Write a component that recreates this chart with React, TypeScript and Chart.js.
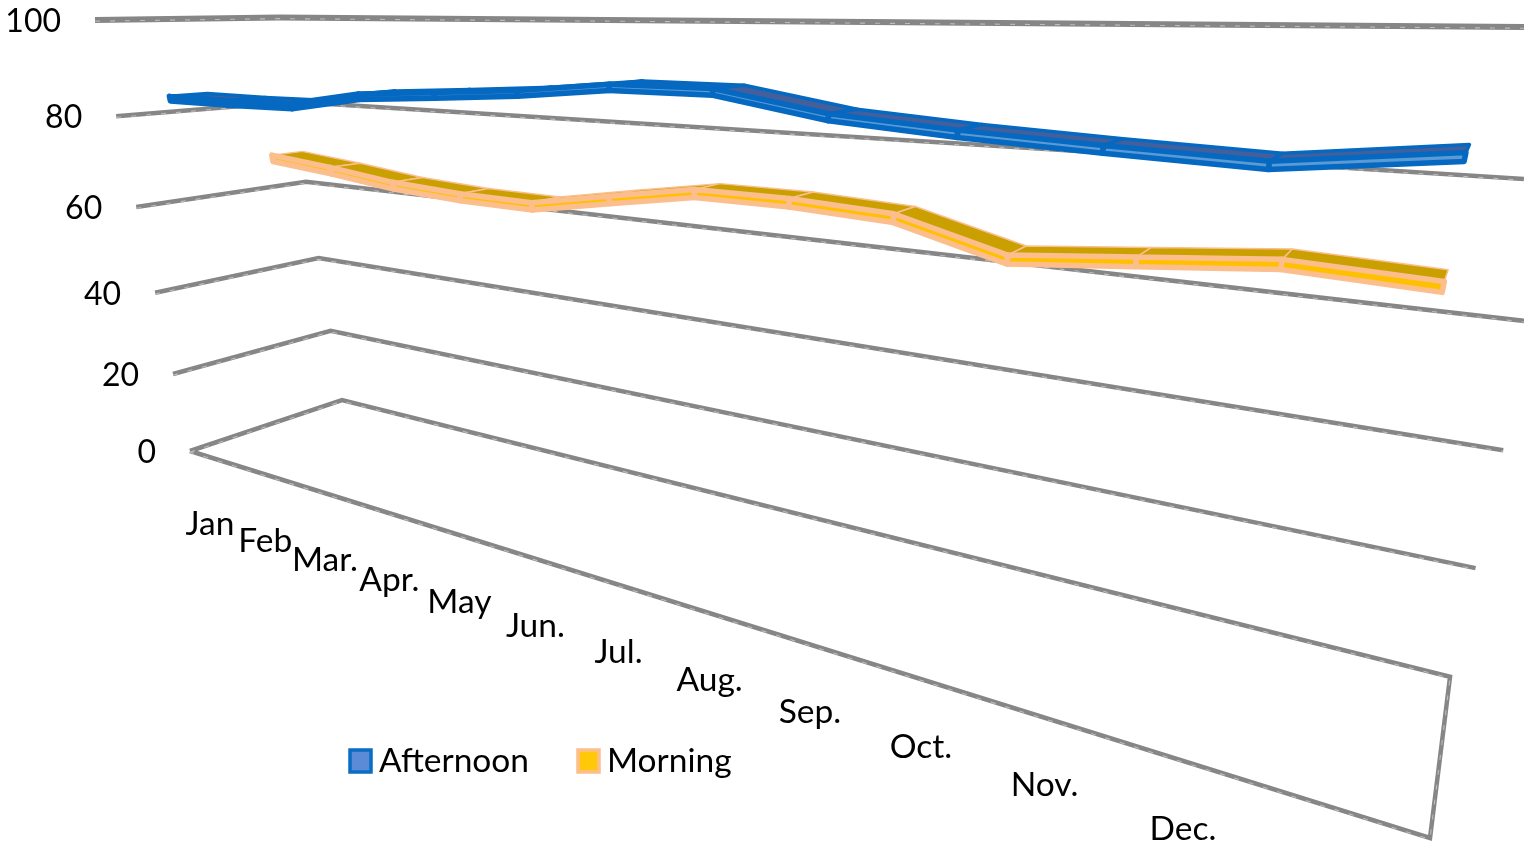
import React, { useEffect, useRef } from "react";
import { Chart, registerables } from "chart.js";

Chart.register(...registerables);

// Monthly percentages for each series; the thirteenth category has no label.
const MONTHS = ["Jan", "Feb", "Mar.", "Apr.", "May", "Jun.", "Jul.", "Aug.", "Sep.", "Oct.", "Nov.", "Dec.", ""];
const AFTERNOON = [84.2, 84.1, 84.3, 86.9, 87.9, 89, 90.7, 90.7, 87.8, 86.5, 85.6, 84.9, 87.2];
const MORNING = [69.1, 67.6, 65.7, 64.8, 64.6, 67.6, 70.5, 70.5, 69.6, 64.7, 66.6, 68.5, 67.7];
const VALUE_TICKS = [0, 20, 40, 60, 80, 100];
const SERIES_NAMES = ["Afternoon", "Morning"];

const FONT = "Lato";
const GRID = "#868686";

type Pt = { x: number; y: number };

// Perspective camera: images of the box corners and the homogeneous weight of each axis.
const ORIGIN = [190, 451];
const AX_X = [1430, 838];
const AX_V = [95, 20];
const AX_D = [342, 400];
const WEIGHT_X = 0.535;
const WEIGHT_V = 0.87;
const WEIGHT_D = 1.1275;

function project(u: number, value: number, d: number): Pt {
  const v = value / 100;
  const o = 1 - u - v - d;
  const a = WEIGHT_X * u;
  const b = WEIGHT_V * v;
  const c = WEIGHT_D * d;
  const w = o + a + b + c;
  return {
    x: (o * ORIGIN[0] + a * AX_X[0] + b * AX_V[0] + c * AX_D[0]) / w,
    y: (o * ORIGIN[1] + a * AX_X[1] + b * AX_V[1] + c * AX_D[1]) / w,
  };
}

const catU = (i: number) => 0.0385 + i * 0.0765;

// Month captions run along a straight line below the floor, foreshortened like the axis.
function monthAnchor(i: number): Pt {
  const t = i / 11;
  const e = 0.603;
  const k = 1 - t + e * t;
  return {
    x: (210 * (1 - t) + 1183 * e * t) / k,
    y: (524 * (1 - t) + 829 * e * t) / k,
  };
}

const lineSet = (data: Pt[], color: string, width: number, extra: object = {}) => ({
  data,
  borderColor: color,
  borderWidth: width,
  pointRadius: 0,
  showLine: true,
  fill: false,
  tension: 0,
  ...extra,
});

const quadSet = (data: Pt[], stroke: string, fillColor: string, width: number) =>
  lineSet([...data, data[0]], stroke, width, {
    fill: "shape",
    backgroundColor: fillColor,
    borderJoinStyle: "round",
    borderCapStyle: "round",
  });

type RibbonStyle = {
  front: number;
  back: number;
  drop: number;
  stroke: string;
  topFill: string;
  faceFill: string;
  topWidth: number;
  faceWidth: number;
};

// One ribbon: a top surface and a front face for every span between months.
function ribbon(values: number[], s: RibbonStyle) {
  const sets: any[] = [];
  for (let i = 0; i < values.length - 1; i++) {
    const u0 = catU(i);
    const u1 = catU(i + 1);
    sets.push(
      quadSet(
        [project(u0, values[i], s.front), project(u1, values[i + 1], s.front), project(u1, values[i + 1], s.back), project(u0, values[i], s.back)],
        s.stroke,
        s.topFill,
        s.topWidth
      )
    );
  }
  for (let i = 0; i < values.length - 1; i++) {
    const u0 = catU(i);
    const u1 = catU(i + 1);
    sets.push(
      quadSet(
        [project(u0, values[i], s.front), project(u1, values[i + 1], s.front), project(u1, values[i + 1] - s.drop, s.front), project(u0, values[i] - s.drop, s.front)],
        s.stroke,
        s.faceFill,
        s.faceWidth
      )
    );
  }
  return sets;
}

function gridSets() {
  const sets: any[] = [];
  for (const tick of VALUE_TICKS) {
    const path = [project(0, tick, 0), project(0, tick, 1), project(1, tick, 1)];
    if (tick === 0) path.push(project(1, 0, 0), project(0, 0, 0));
    sets.push(lineSet(path, GRID, tick === 100 ? 6 : 4.5, { borderJoinStyle: "miter" }));
    const notch = path.map((p) => ({ x: p.x, y: p.y + 1.2 }));
    sets.push(lineSet(notch, "#bdbdbd", 1.1, { borderDash: [5, 10] }));
  }
  return sets;
}

const textPlugin = {
  id: "boxText",
  afterDraw(chart: any) {
    const { ctx, scales } = chart;
    const px = (p: Pt): Pt => ({ x: scales.x.getPixelForValue(p.x), y: scales.y.getPixelForValue(p.y) });
    ctx.save();
    ctx.fillStyle = "#000000";
    ctx.font = `32px ${FONT}`;
    ctx.textBaseline = "middle";

    ctx.textAlign = "right";
    for (const tick of VALUE_TICKS) {
      const p = px(project(0, tick, 0));
      ctx.fillText(String(tick), p.x - 34, p.y + 1.5);
    }

    ctx.font = `33.5px ${FONT}`;
    ctx.textAlign = "center";
    MONTHS.forEach((label, i) => {
      const p = px(monthAnchor(i));
      ctx.fillText(label, p.x, p.y);
    });

    // Legend row
    const keys = [
      { x: 350, textX: 379, stroke: "#0A6CC4", fill: "#5B8AD6" },
      { x: 578, textX: 607, stroke: "#FBBE8C", fill: "#FFC90A" },
    ];
    ctx.textAlign = "left";
    keys.forEach((key, i) => {
      ctx.fillStyle = key.fill;
      ctx.strokeStyle = key.stroke;
      ctx.lineWidth = 3.5;
      ctx.fillRect(key.x, 750, 21, 22);
      ctx.strokeRect(key.x, 750, 21, 22);
      ctx.fillStyle = "#000000";
      ctx.fillText(SERIES_NAMES[i], key.textX, 761.5);
    });
    ctx.restore();
  },
};

export default function App() {
  const ref = useRef<HTMLCanvasElement>(null);
  useEffect(() => {
    document.body.style.margin = "0";
    document.body.style.background = "#ffffff";
    // Painter's order: grid, far ribbon, near ribbon. Chart.js paints the last dataset first.
    const painted = [
      ...gridSets(),
      ...ribbon(MORNING, { front: 0.65, back: 0.84, drop: 1.5, stroke: "#FBBE8C", topFill: "#C9A000", faceFill: "#FFC000", topWidth: 1.5, faceWidth: 5.5 }),
      ...ribbon(AFTERNOON, { front: 0.15, back: 0.35, drop: 1.0, stroke: "#0569C2", topFill: "#43609C", faceFill: "#5B9BD5", topWidth: 3.5, faceWidth: 5.5 }),
    ];
    const chart = new Chart(ref.current!, {
      type: "scatter",
      data: { datasets: painted.reverse() },
      options: {
        animation: false,
        responsive: false,
        events: [],
        layout: { padding: { right: 9 } },
        plugins: { legend: { display: false }, tooltip: { enabled: false } },
        scales: {
          x: { type: "linear", display: false, min: 0, max: 1524 },
          y: { type: "linear", display: false, min: 0, max: 848, reverse: true },
        },
      },
      plugins: [textPlugin],
    } as any);
    return () => chart.destroy();
  }, []);
  return <canvas ref={ref} width={1533} height={848} style={{ display: "block" }} />;
}
